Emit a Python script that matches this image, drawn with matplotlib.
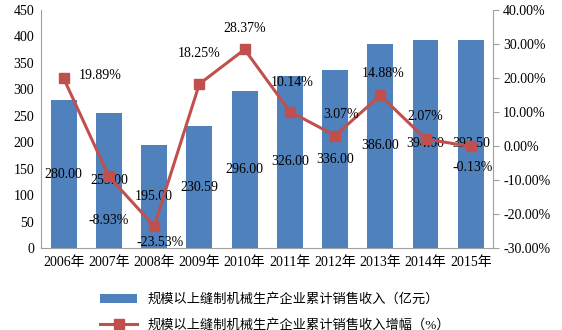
import numpy as np
import matplotlib.pyplot as plt
from matplotlib.ticker import FuncFormatter

plt.rcParams['font.family'] = ['Liberation Serif', 'Noto Sans CJK SC']

years = ['2006年', '2007年', '2008年', '2009年', '2010年', '2011年', '2012年', '2013年', '2014年', '2015年']
revenue = [280.00, 255.00, 195.00, 230.59, 296.00, 326.00, 336.00, 386.00, 394.00, 393.50]
growth = [19.89, -8.93, -23.53, 18.25, 28.37, 10.14, 3.07, 14.88, 2.07, -0.13]

# label offsets for the growth line (points)
offs = [(26, 2), (0, -32), (4, -12), (0, 22), (0, 15), (2, 21), (4, 15), (2, 16), (0, 16), (1, -15)]

bar_c = '#4f81bd'
line_c = '#c0504d'
fs = 10

fig = plt.figure(figsize=(5.62, 3.30), dpi=100)
ax = fig.add_axes([0.073, 0.248, 0.805, 0.722])
x = np.arange(len(years))
bars = ax.bar(x, revenue, width=0.57, color=bar_c, zorder=2,
              label='规模以上缝制机械生产企业累计销售收入（亿元）')
ax.set_ylim(0, 450)
ax.set_yticks(range(0, 451, 50))
ax.set_xlim(-0.5, len(years) - 0.5)
ax.set_xticks(x)
ax.set_xticklabels(years, fontsize=fs)
ax.tick_params(axis='y', labelsize=fs, length=0, pad=5)
ax.tick_params(axis='x', length=0, pad=6)
ax.spines['top'].set_visible(False)
ax.spines['right'].set_visible(False)
ax.spines['left'].set_color('#a0a0a0')
ax.spines['bottom'].set_color('#a0a0a0')

for xi, v in zip(x, revenue):
    ax.text(xi, v / 2, f'{v:.2f}', ha='center', va='center', fontsize=fs, zorder=5)

ax2 = ax.twinx()
ln, = ax2.plot(x, growth, color=line_c, lw=2.2, marker='s', ms=7.5,
               label='规模以上缝制机械生产企业累计销售收入增幅（%）', zorder=3)
ax2.set_ylim(-30, 40)
ax2.set_yticks(range(-30, 41, 10))
ax2.yaxis.set_major_formatter(FuncFormatter(lambda v, p: f'{v:.2f}%'))
ax2.tick_params(axis='y', labelsize=fs, length=4, color='#a0a0a0', pad=3)
for s in ['top', 'left', 'bottom']:
    ax2.spines[s].set_visible(False)
ax2.spines['right'].set_color('#a0a0a0')

for xi, g, (dx, dy) in zip(x, growth, offs):
    ax2.annotate(f'{g:.2f}%', (xi, g), xytext=(dx, dy), textcoords='offset points',
                 ha='center', va='center', fontsize=fs, zorder=6)

fig.legend([bars, ln], [bars.get_label(), ln.get_label()], loc='lower center',
           bbox_to_anchor=(0.49, -0.04), ncol=1, frameon=False,
           handlelength=2.8, labelspacing=0.95,
           prop={'family': ['Liberation Serif', 'Noto Sans CJK SC'], 'size': 9.5})

fig.savefig('out.png', dpi=100)
